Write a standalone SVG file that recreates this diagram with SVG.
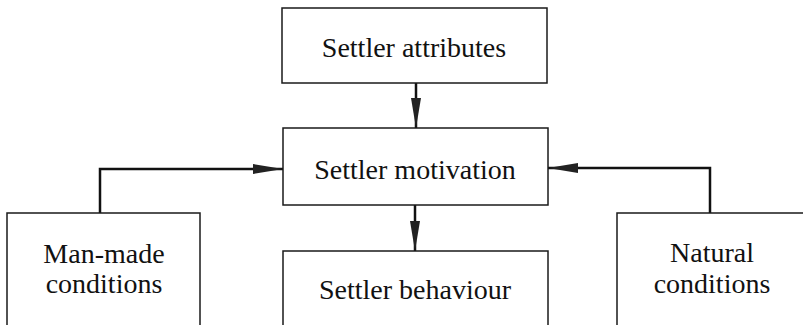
<svg xmlns="http://www.w3.org/2000/svg" width="803" height="325" viewBox="0 0 803 325">
<style>
.box{fill:#fff;stroke:#1a1a1a;stroke-width:1.5}
.lbl{font-family:"Liberation Serif","DejaVu Serif",serif;font-size:28px;fill:#111;text-anchor:middle}
.con{fill:none;stroke:#111;stroke-width:2.5}
</style>
<defs>
<marker id="ah" viewBox="0 0 30 12" refX="30" refY="6" markerWidth="30" markerHeight="12" markerUnits="userSpaceOnUse" orient="auto">
<path d="M0,1 L30,6 L0,11 Z" fill="#222"/>
</marker>
</defs>
<rect width="803" height="325" fill="#fff"/>
<g id="connectors">
<path class="con" d="M416,83 V128" marker-end="url(#ah)"/>
<path class="con" d="M415,205 V251" marker-end="url(#ah)"/>
<path class="con" d="M100,213 V169 H283" marker-end="url(#ah)"/>
<path class="con" d="M710,213 V168 H548" marker-end="url(#ah)"/>
</g>
<g id="attributes">
<rect class="box" x="282" y="8" width="265" height="75"/>
<text class="lbl" x="414" y="57">Settler attributes</text>
</g>
<g id="motivation">
<rect class="box" x="283" y="128" width="265" height="77"/>
<text class="lbl" x="415" y="179">Settler motivation</text>
</g>
<g id="behaviour">
<rect class="box" x="283" y="251" width="265" height="80"/>
<text class="lbl" x="415" y="299">Settler behaviour</text>
</g>
<g id="manmade">
<rect class="box" x="7" y="213" width="193" height="120"/>
<text class="lbl" x="104" y="263">Man-made</text>
<text class="lbl" x="104" y="293">conditions</text>
</g>
<g id="natural">
<rect class="box" x="617" y="213" width="200" height="120"/>
<text class="lbl" x="712" y="262">Natural</text>
<text class="lbl" x="712" y="293">conditions</text>
</g>
</svg>
